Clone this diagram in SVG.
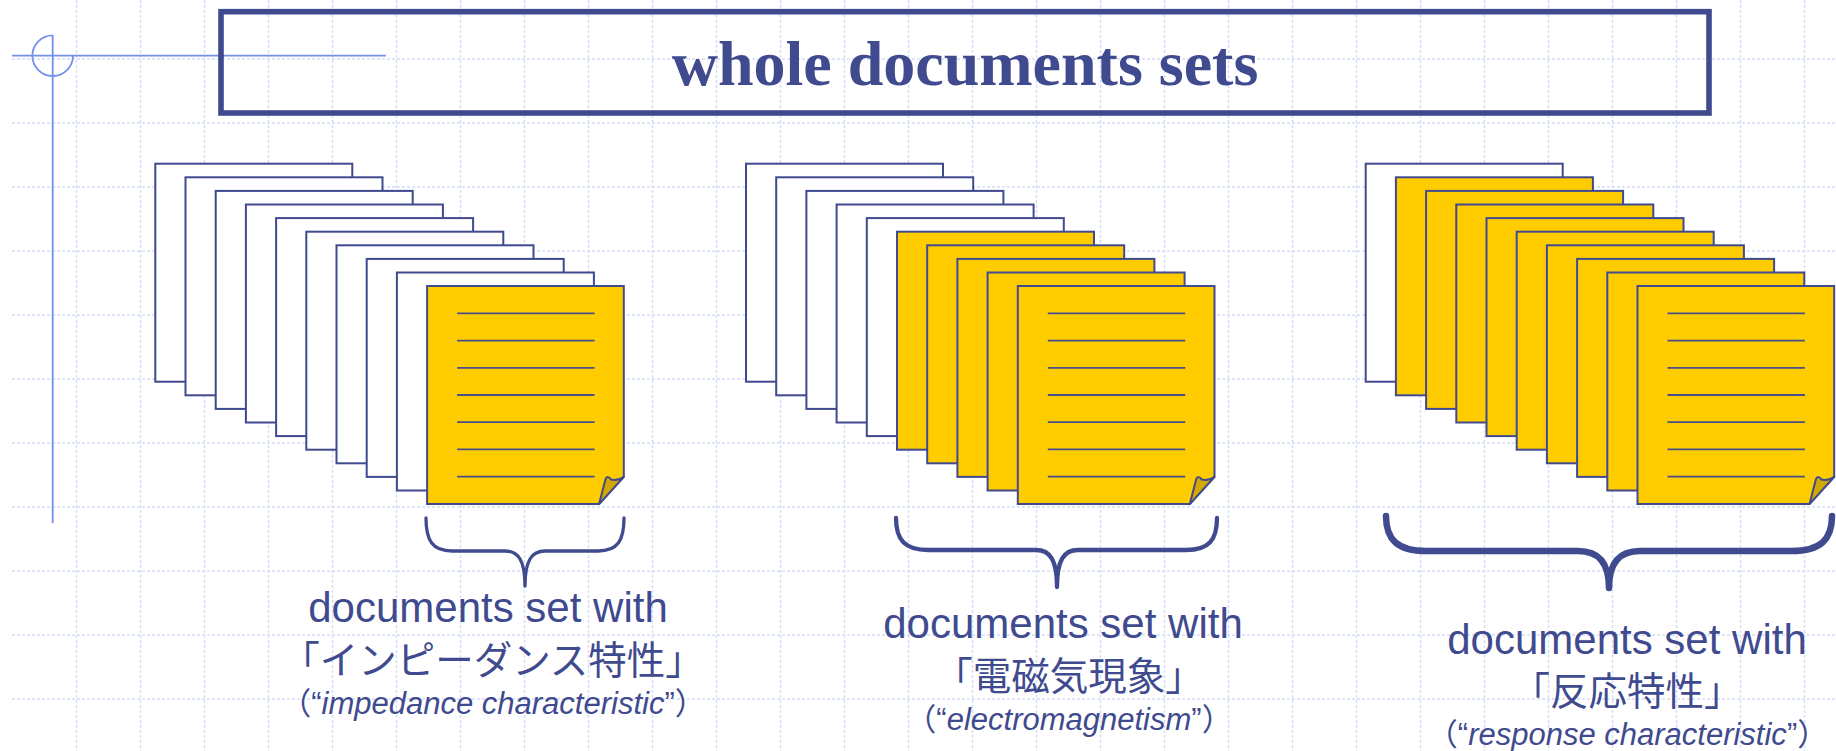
<svg xmlns="http://www.w3.org/2000/svg" xmlns:xlink="http://www.w3.org/1999/xlink" width="1836" height="751" viewBox="0 0 1836 751">
  <style>
    .grid { fill: none; stroke: #d3ddf8; stroke-width: 1.4; stroke-dasharray: 3 2; }
    .cross { fill: none; stroke: #7390ee; stroke-width: 1.8; }
    .frame { fill: none; stroke: #404a8e; stroke-width: 5.6; }
    .title { font-family: "Liberation Serif", "Times New Roman", serif; font-weight: bold; font-size: 64px; fill: #404a8e; }
    .sheet { stroke: #404a8e; stroke-width: 2; }
    .blank { fill: #ffffff; }
    .gold { fill: #ffcc00; }
    .fold { fill: #d3a800; stroke: #404a8e; stroke-width: 2; stroke-linejoin: round; }
    .rule { stroke: #474f88; stroke-width: 1.8; }
    .brace { fill: none; stroke: #404a8e; stroke-linecap: round; stroke-linejoin: round; }
    .lbl { font-family: "Liberation Sans", Arial, "Noto Sans CJK JP", sans-serif; font-size: 42px; fill: #404a8e; text-anchor: middle; }
    .jp { font-family: "Noto Sans CJK JP", "Noto Sans CJK SC", sans-serif; font-size: 38.5px; fill: #404a8e; text-anchor: middle; }
    .gloss { font-family: "Liberation Sans", Arial, "Noto Sans CJK JP", sans-serif; font-size: 31px; fill: #404a8e; text-anchor: middle; }
  </style>
  <defs>
    <rect id="sheet" class="sheet" width="197" height="218"/>
    <g id="front">
      <path class="sheet gold" d="M0,0 H196.7 V190.7 L172,218 H0 Z"/>
      <path class="fold" d="M172,218 L178.4,193.2 C179.5,190 182,190.5 184,193.5 C189,194.5 193,193.5 196.7,190.7 Z"/>
      <g class="rule">
        <line x1="30" y1="27.3" x2="167.4" y2="27.3"/>
        <line x1="30" y1="54.5" x2="167.4" y2="54.5"/>
        <line x1="30" y1="81.7" x2="167.4" y2="81.7"/>
        <line x1="30" y1="108.9" x2="167.4" y2="108.9"/>
        <line x1="30" y1="136.1" x2="167.4" y2="136.1"/>
        <line x1="30" y1="163.3" x2="167.4" y2="163.3"/>
        <line x1="30" y1="190.5" x2="167.4" y2="190.5"/>
      </g>
    </g>
  </defs>

  <!-- background -->
  <rect width="1836" height="751" fill="#ffffff"/>
  <g id="grid">
    <path class="grid" d="M76.5,0V751M140.5,0V751M204.5,0V751M268.5,0V751M332.5,0V751M396.5,0V751M460.5,0V751M524.5,0V751M588.5,0V751M652.5,0V751M716.5,0V751M780.5,0V751M844.5,0V751M908.5,0V751M972.5,0V751M1036.5,0V751M1100.5,0V751M1164.5,0V751M1228.5,0V751M1292.5,0V751M1356.5,0V751M1420.5,0V751M1484.5,0V751M1548.5,0V751M1612.5,0V751M1676.5,0V751M1740.5,0V751M1804.5,0V751"/>
    <path class="grid" d="M12,59H1836M12,123H1836M12,187H1836M12,251H1836M12,315H1836M12,379H1836M12,443H1836M12,507H1836M12,571H1836M12,635H1836M12,699H1836"/>
  </g>

  <!-- registration mark -->
  <g id="crosshair">
    <path class="cross" d="M12,55.7H386M52.7,35.2V523"/>
    <path class="cross" d="M52.7,35.4 A20.3,20.3 0 1 0 73,55.7"/>
  </g>

  <!-- heading -->
  <g id="heading">
    <rect class="frame" x="221" y="11.7" width="1488" height="101.3"/>
    <text class="title" x="965" y="85" text-anchor="middle">whole documents sets</text>
  </g>

  <!-- stack 1: only the front sheet is marked -->
  <g id="stack-impedance" transform="translate(155.3,163.7)">
    <use href="#sheet" class="blank" x="0" y="0"/>
    <use href="#sheet" class="blank" x="30.2" y="13.6"/>
    <use href="#sheet" class="blank" x="60.4" y="27.2"/>
    <use href="#sheet" class="blank" x="90.6" y="40.8"/>
    <use href="#sheet" class="blank" x="120.8" y="54.4"/>
    <use href="#sheet" class="blank" x="151" y="68"/>
    <use href="#sheet" class="blank" x="181.2" y="81.6"/>
    <use href="#sheet" class="blank" x="211.4" y="95.2"/>
    <use href="#sheet" class="blank" x="241.6" y="108.8"/>
    <use href="#front" x="271.8" y="122.4"/>
  </g>
  <g id="label-impedance">
    <text class="lbl" x="488" y="622">documents set with</text>
    <text class="jp" x="492.5" y="674">「インピーダンス特性」</text>
    <text class="gloss" x="493" y="714">（“<tspan font-style="italic">impedance characteristic</tspan>”）</text>
  </g>

  <!-- stack 2: front five sheets marked -->
  <g id="stack-electromagnetism" transform="translate(746,163.7)">
    <use href="#sheet" class="blank" x="0" y="0"/>
    <use href="#sheet" class="blank" x="30.2" y="13.6"/>
    <use href="#sheet" class="blank" x="60.4" y="27.2"/>
    <use href="#sheet" class="blank" x="90.6" y="40.8"/>
    <use href="#sheet" class="blank" x="120.8" y="54.4"/>
    <use href="#sheet" class="gold" x="151" y="68"/>
    <use href="#sheet" class="gold" x="181.2" y="81.6"/>
    <use href="#sheet" class="gold" x="211.4" y="95.2"/>
    <use href="#sheet" class="gold" x="241.6" y="108.8"/>
    <use href="#front" x="271.8" y="122.4"/>
  </g>
  <g id="label-electromagnetism">
    <text class="lbl" x="1063" y="637.5">documents set with</text>
    <text class="jp" x="1069" y="690">「電磁気現象」</text>
    <text class="gloss" x="1069" y="730">（“<tspan font-style="italic">electromagnetism</tspan>”）</text>
  </g>

  <!-- stack 3: all but the rearmost sheet marked -->
  <g id="stack-response" transform="translate(1365.7,163.7)">
    <use href="#sheet" class="blank" x="0" y="0"/>
    <use href="#sheet" class="gold" x="30.2" y="13.6"/>
    <use href="#sheet" class="gold" x="60.4" y="27.2"/>
    <use href="#sheet" class="gold" x="90.6" y="40.8"/>
    <use href="#sheet" class="gold" x="120.8" y="54.4"/>
    <use href="#sheet" class="gold" x="151" y="68"/>
    <use href="#sheet" class="gold" x="181.2" y="81.6"/>
    <use href="#sheet" class="gold" x="211.4" y="95.2"/>
    <use href="#sheet" class="gold" x="241.6" y="108.8"/>
    <use href="#front" x="271.8" y="122.4"/>
  </g>
  <g id="label-response">
    <text class="lbl" x="1627" y="654">documents set with</text>
    <text class="jp" x="1627" y="705">「反応特性」</text>
    <text class="gloss" x="1627.5" y="745">（“<tspan font-style="italic">response characteristic</tspan>”）</text>
  </g>

  <!-- braces grouping the marked sheets -->
  <g id="braces">
    <path class="brace" stroke-width="3.3" d="M426,518 C426,540 432,551 452,551 L505,551 C518,551 525,560 525,586 C525,560 532,551 545,551 L598,551 C618,551 624,540 624,518"/>
    <path class="brace" stroke-width="4.3" d="M896,518 C896,540 905,550 928,550 L1036,550 C1050,550 1057,560 1057,587 C1057,560 1064,550 1078,550 L1186,550 C1209,550 1217,540 1217,518"/>
    <path class="brace" stroke-width="6.5" d="M1386,516 C1386,540 1398,551 1426,551 L1578,551 C1598,551 1609,562 1609,588 C1609,562 1620,551 1640,551 L1792,551 C1820,551 1832,540 1832,516"/>
  </g>
</svg>
